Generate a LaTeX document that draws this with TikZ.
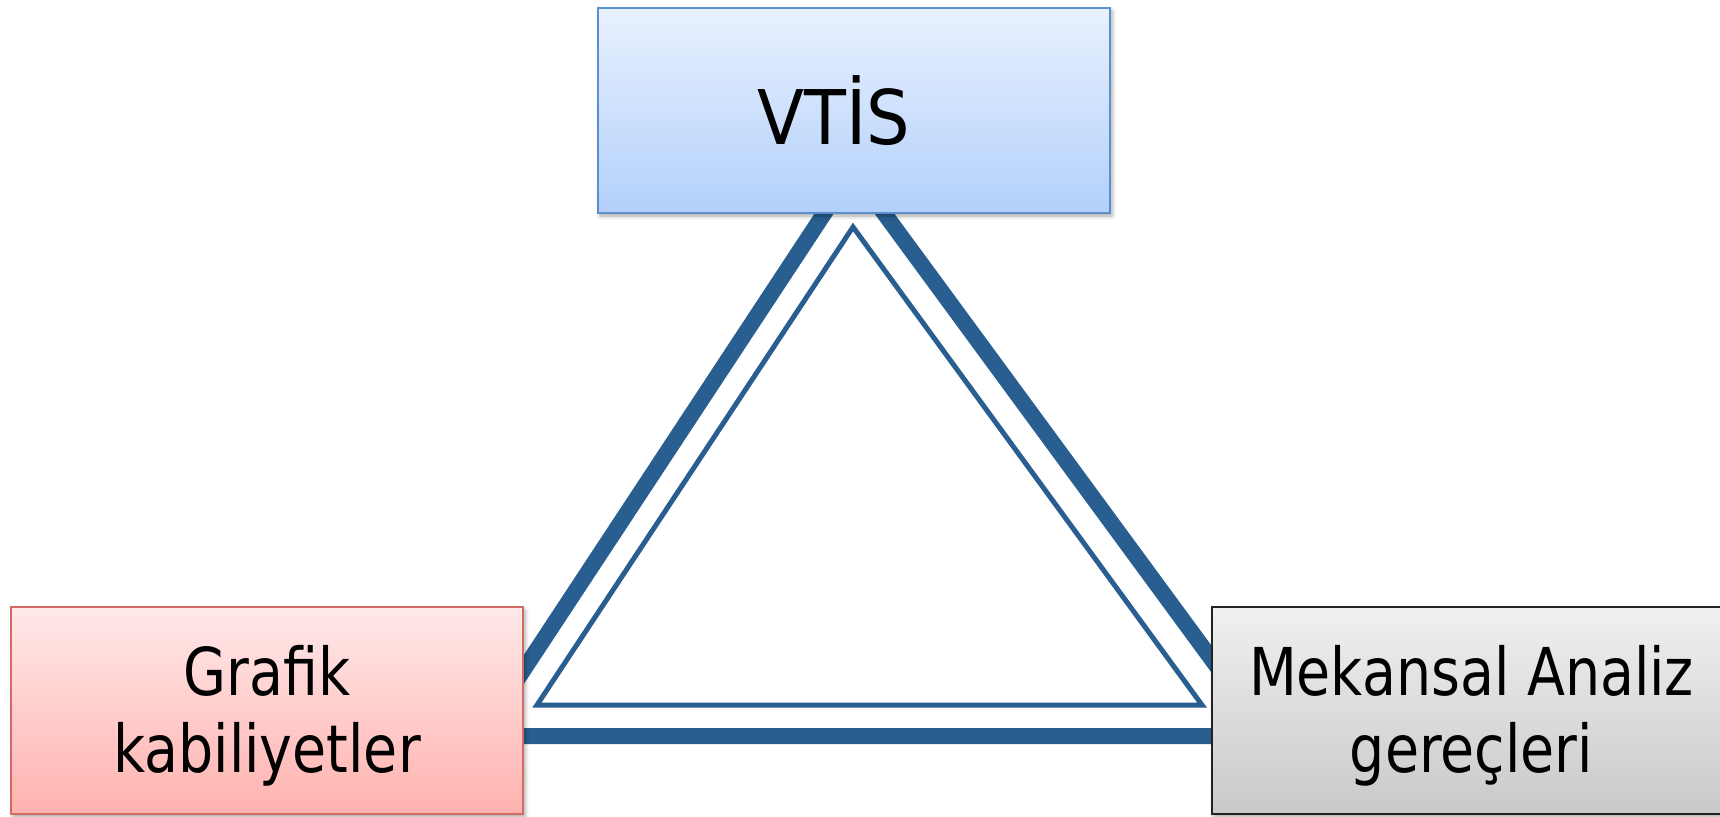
\documentclass[tikz,border=0pt]{standalone}
\usepackage{fontspec}
\usetikzlibrary{shadows.blur}
\newfontfamily\boxfont[FakeStretch=0.84]{DejaVu Sans}
\newfontfamily\titlefont[FakeStretch=0.91]{DejaVu Sans}
\definecolor{linkblue}{RGB}{41,94,145}
\definecolor{topfillA}{HTML}{E9F1FE}
\definecolor{topfillB}{HTML}{B2D0FB}
\definecolor{topedge}{HTML}{5C8FCE}
\definecolor{redfillA}{HTML}{FFE9E9}
\definecolor{redfillB}{HTML}{FFB2AF}
\definecolor{rededge}{HTML}{D46A65}
\definecolor{grayfillA}{HTML}{F0F0F0}
\definecolor{grayfillB}{HTML}{C9C9C9}
\definecolor{grayedge}{HTML}{222222}
\tikzset{
  panel/.style={rectangle, inner sep=0pt, line width=1pt,
    blur shadow={shadow xshift=1pt, shadow yshift=-1.5pt, shadow opacity=35, shadow blur radius=2pt}},
  bluepanel/.style={panel, draw=topedge, top color=topfillA, bottom color=topfillB},
  redpanel/.style={panel, draw=rededge, top color=redfillA, bottom color=redfillB},
  graypanel/.style={panel, draw=grayedge, top color=grayfillA, bottom color=grayfillB},
  paneltext/.style={inner sep=0pt, align=center, text=black,
    font=\boxfont\fontsize{33}{38.5}\selectfont},
  thickside/.style={draw=linkblue, line width=8pt, line join=miter},
  thinside/.style={draw=linkblue, line width=2.5pt, line join=miter},
}
\begin{document}
\begin{tikzpicture}[x=0.5pt, y=-0.5pt]
  \useasboundingbox (0,0) rectangle (1720,816);

  % outer (thick) and inner (thin) triangle outline
  \coordinate (oA) at (852.6,170.3);
  \coordinate (oB) at (480,736);
  \coordinate (oC) at (1268,736);
  \coordinate (iA) at (853,227);
  \coordinate (iB) at (537,705);
  \coordinate (iC) at (1202,705);
  \draw[thickside] (oA) -- (oB) -- (oC) -- cycle;
  \draw[thinside] (iA) -- (iB) -- (iC) -- cycle;

  % the three boxes
  \node[bluepanel, minimum width=256pt, minimum height=102.5pt] (vtis) at (854,110.5) {};
  \node[redpanel, minimum width=256pt, minimum height=103.5pt] (grafik) at (267,710.5) {};
  \node[graypanel, minimum width=259.5pt, minimum height=103.5pt] (mekan) at (1471.5,710.5) {};

  % box captions
  \node[paneltext, font=\titlefont\fontsize{37.7}{44}\selectfont] (vtistext)
        at (833.5,110.5) {VTİS};
  \node[paneltext] (grafiktext) at (267,716.2) {Grafik\\kabiliyetler};
  \node[paneltext] (mekantext) at (1471.5,716.2) {Mekansal Analiz\\gereçleri};
\end{tikzpicture}
\end{document}
